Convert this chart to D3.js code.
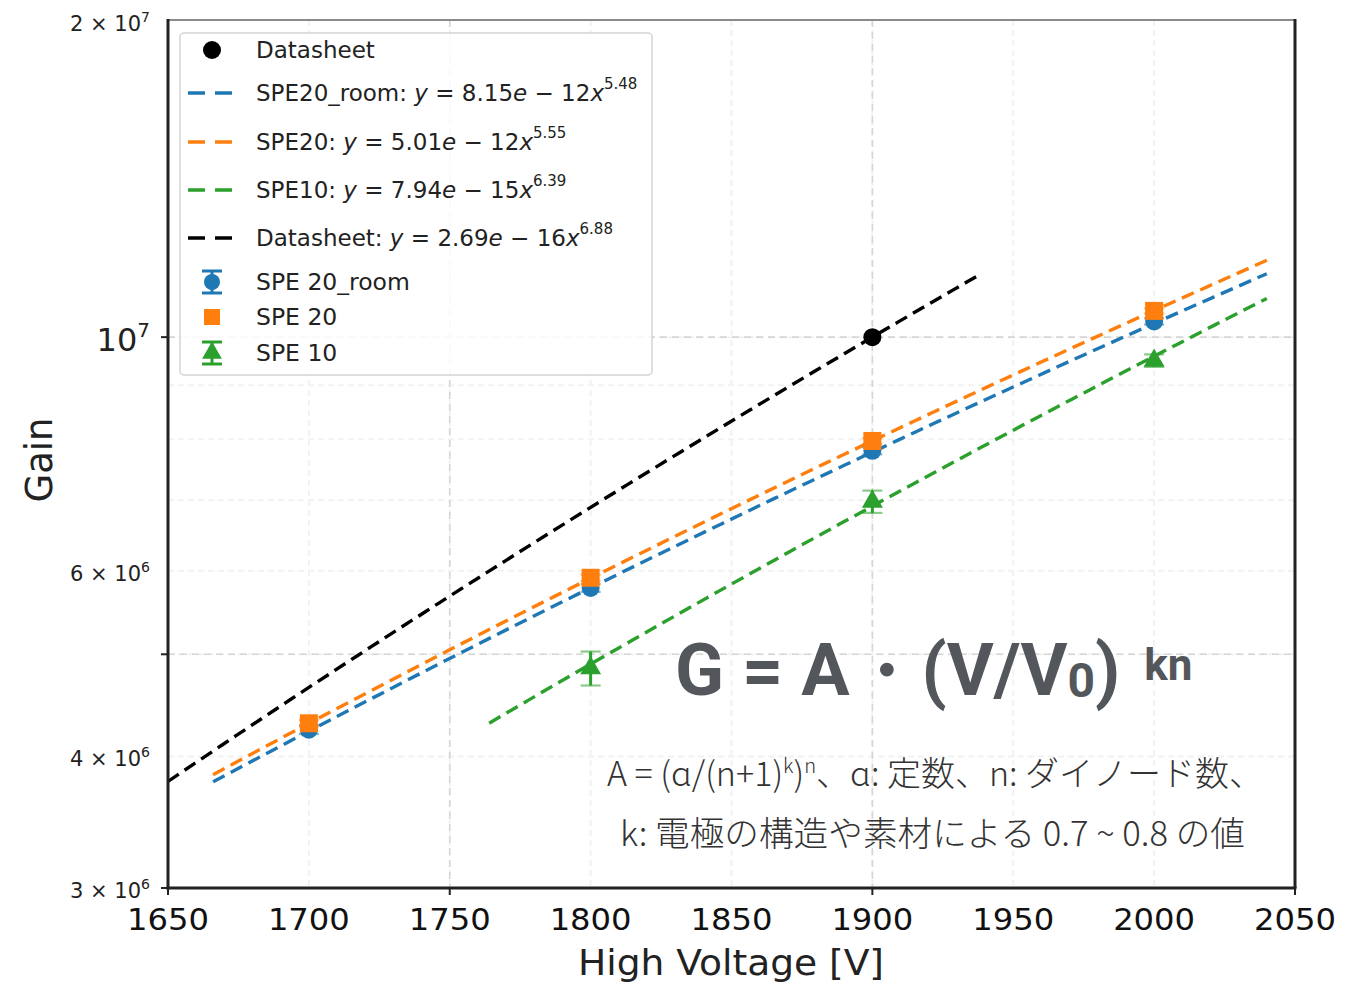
<!DOCTYPE html>
<html>
<head>
<meta charset="utf-8">
<script src="https://cdn.jsdelivr.net/npm/d3@7"></script>
<style>
  body { margin: 0; background: #fff; }
  svg { display: block; }
</style>
</head>
<body>
<svg id="chart" width="1362" height="983"></svg>
<script>
// ---- data ----
const voltageTicks = [1650, 1700, 1750, 1800, 1850, 1900, 1950, 2000, 2050];
const majorVoltages = [1650, 1750, 1900, 2050];
const majorGains = [3e6, 5e6, 1e7];
const gainLabelValues = [2e7, 1e7, 6e6, 4e6, 3e6];

const datasheetV = [1900];
const datasheetGain = [1.0e7];

const spe20roomV = [1700, 1800, 1900, 2000];
const spe20roomGain = [4.24e6, 5.78e6, 7.80e6, 1.035e7];
const spe20roomErr = [0.04e6, 0.05e6, 0.06e6, 0.07e6];

const spe20V = [1700, 1800, 1900, 2000];
const spe20Gain = [4.30e6, 5.91e6, 7.97e6, 1.059e7];
const spe20Err = [0.03e6, 0.04e6, 0.05e6, 0.06e6];

const spe10V = [1800, 1900, 2000];
const spe10Gain = [4.85e6, 6.98e6, 9.50e6];
const spe10Err = [0.18e6, 0.17e6, 0.13e6];

// power-law fits  G = A * V^n
const fitNames = ["SPE20_room", "SPE20", "SPE10", "Datasheet"];
const fitCoef = [8.15e-12, 5.01e-12, 7.94e-15, 2.69e-16];
const fitExp = [5.4837, 5.5514, 6.3865, 6.8838];
const fitRange = [[1666, 2040], [1666, 2040], [1764, 2040], [1650, 1938]];

const formulaMain = "G = A・(V/V";
const formulaSub = "0";
const formulaClose = ")";
const formulaSup = "kn";
const noteLine1 = ["A = (ɑ/(n+1)", "k", ")", "n", "、ɑ: 定数、n: ダイノード数、"];
const noteLine2 = "k: 電極の構造や素材による 0.7 ~ 0.8 の値";

// ---- layout ----
const svg = d3.select("#chart");
const plot = { left: 168, right: 1295, top: 20, bottom: 888 };
const x = d3.scaleLinear().domain([1650, 2050]).range([plot.left, plot.right]);
const y = d3.scaleLog().domain([3e6, 2e7]).range([plot.bottom, plot.top]);

const C = { blue: "#1f77b4", orange: "#ff7f0e", green: "#2ca02c", black: "#000" };
const fitColors = [C.blue, C.orange, C.green, C.black];
const FONT = "'DejaVu Sans', sans-serif";

svg.append("defs").append("clipPath").attr("id", "plotClip")
  .append("rect").attr("x", plot.left).attr("y", plot.top)
  .attr("width", plot.right - plot.left).attr("height", plot.bottom - plot.top);

// ---- grid ----
const grid = svg.append("g");
grid.selectAll(".vminor").data(voltageTicks).join("line")
  .attr("x1", d => x(d)).attr("x2", d => x(d))
  .attr("y1", plot.top).attr("y2", plot.bottom)
  .attr("stroke", "#f2f2f2").attr("stroke-width", 2).attr("stroke-dasharray", "6,4");
grid.selectAll(".hminor").data(y.ticks()).join("line")
  .attr("x1", plot.left).attr("x2", plot.right)
  .attr("y1", d => y(d)).attr("y2", d => y(d))
  .attr("stroke", "#f2f2f2").attr("stroke-width", 2).attr("stroke-dasharray", "6,4");
grid.selectAll(".vmajor").data(majorVoltages).join("line")
  .attr("x1", d => x(d)).attr("x2", d => x(d))
  .attr("y1", plot.top).attr("y2", plot.bottom)
  .attr("stroke", "#d6d6d6").attr("stroke-width", 1.6).attr("stroke-dasharray", "7,5");
grid.selectAll(".hmajor").data(majorGains).join("line")
  .attr("x1", plot.left).attr("x2", plot.right)
  .attr("y1", d => y(d)).attr("y2", d => y(d))
  .attr("stroke", "#d6d6d6").attr("stroke-width", 1.6).attr("stroke-dasharray", "7,5");

// ---- fit curves ----
const lineGen = d3.line().x(d => x(d[0])).y(d => y(d[1]));
const fits = svg.append("g").attr("clip-path", "url(#plotClip)");
fitNames.forEach((name, i) => {
  const [v0, v1] = fitRange[i];
  const pts = d3.range(0, 61).map(k => {
    const v = v0 + (v1 - v0) * k / 60;
    return [v, fitCoef[i] * Math.pow(v, fitExp[i])];
  });
  fits.append("path").datum(pts).attr("d", lineGen)
    .attr("fill", "none").attr("stroke", fitColors[i])
    .attr("stroke-width", 3.4).attr("stroke-dasharray", "13,7");
});

// ---- error bars and markers ----
function errorBars(g, vs, gs, es, color) {
  vs.forEach((v, i) => {
    const top = y(gs[i] + es[i]), bot = y(gs[i] - es[i]);
    g.append("line").attr("x1", x(v)).attr("x2", x(v)).attr("y1", top).attr("y2", bot)
      .attr("stroke", color).attr("stroke-width", 3);
    [top, bot].forEach(yy => g.append("line")
      .attr("x1", x(v) - 10).attr("x2", x(v) + 10).attr("y1", yy).attr("y2", yy)
      .attr("stroke", color).attr("stroke-width", 2.2).attr("opacity", 0.55));
  });
}
const marks = svg.append("g");
errorBars(marks, spe20roomV, spe20roomGain, spe20roomErr, C.blue);
marks.selectAll(".b").data(spe20roomV).join("circle")
  .attr("cx", d => x(d)).attr("cy", (d, i) => y(spe20roomGain[i])).attr("r", 9).attr("fill", C.blue);
errorBars(marks, spe20V, spe20Gain, spe20Err, C.orange);
marks.selectAll(".o").data(spe20V).join("rect")
  .attr("x", d => x(d) - 9).attr("y", (d, i) => y(spe20Gain[i]) - 9)
  .attr("width", 18).attr("height", 18).attr("fill", C.orange);
errorBars(marks, spe10V, spe10Gain, spe10Err, C.green);
const tri = d3.symbol().type(d3.symbolTriangle).size(190);
marks.selectAll(".g").data(spe10V).join("path")
  .attr("d", tri).attr("transform", (d, i) => `translate(${x(d)},${y(spe10Gain[i])})`)
  .attr("fill", C.green);
marks.selectAll(".d").data(datasheetV).join("circle")
  .attr("cx", d => x(d)).attr("cy", (d, i) => y(datasheetGain[i])).attr("r", 9).attr("fill", C.black);

// ---- spines and ticks ----
const ax = svg.append("g");
ax.append("line").attr("x1", plot.left).attr("x2", plot.right).attr("y1", plot.top).attr("y2", plot.top)
  .attr("stroke", "#8a8a8a").attr("stroke-width", 2);
ax.append("line").attr("x1", plot.right).attr("x2", plot.right).attr("y1", plot.top - 1).attr("y2", plot.bottom)
  .attr("stroke", "#222").attr("stroke-width", 3);
ax.append("line").attr("x1", plot.left).attr("x2", plot.left).attr("y1", plot.top - 1).attr("y2", plot.bottom + 1.5)
  .attr("stroke", "#222").attr("stroke-width", 3);
ax.append("line").attr("x1", plot.left - 1.5).attr("x2", plot.right + 1.5).attr("y1", plot.bottom).attr("y2", plot.bottom)
  .attr("stroke", "#222").attr("stroke-width", 3);
ax.selectAll(".xt").data(majorVoltages).join("line")
  .attr("x1", d => x(d)).attr("x2", d => x(d)).attr("y1", plot.bottom).attr("y2", plot.bottom + 7)
  .attr("stroke", "#222").attr("stroke-width", 2);
ax.selectAll(".yt").data(majorGains).join("line")
  .attr("x1", plot.left - 7).attr("x2", plot.left).attr("y1", d => y(d)).attr("y2", d => y(d))
  .attr("stroke", "#222").attr("stroke-width", 2);

// x tick labels
ax.selectAll(".xl").data(voltageTicks).join("text")
  .attr("x", d => x(d)).attr("y", 930).attr("text-anchor", "middle")
  .attr("font-family", FONT).attr("font-size", 31).attr("fill", "#111")
  .attr("textLength", 82).attr("lengthAdjust", "spacingAndGlyphs")
  .text(d => d);

// y tick labels (m × 10^e)
gainLabelValues.forEach(v => {
  const e = Math.floor(Math.log10(v) + 1e-9);
  const m = Math.round(v / Math.pow(10, e));
  const t = ax.append("text").attr("x", 150).attr("y", y(v) + (v === 2e7 ? 11 : 10))
    .attr("text-anchor", "end").attr("font-family", FONT).attr("fill", "#222");
  if (m === 1) {
    t.attr("font-size", 32).attr("y", y(v) + 14);
    t.append("tspan").text("10");
    t.append("tspan").attr("font-size", 20).attr("dy", -14).text(e);
  } else {
    t.attr("font-size", 21);
    t.append("tspan").text(`${m} × 10`);
    t.append("tspan").attr("font-size", 14).attr("dy", -9).text(e);
  }
});

// axis titles
svg.append("text").attr("transform", "translate(52,460) rotate(-90)")
  .attr("text-anchor", "middle").attr("font-family", FONT).attr("font-size", 37).attr("fill", "#222")
  .text("Gain");
svg.append("text").attr("x", 731).attr("y", 975).attr("text-anchor", "middle")
  .attr("font-family", FONT).attr("font-size", 35).attr("fill", "#222")
  .attr("textLength", 306).attr("lengthAdjust", "spacingAndGlyphs")
  .text("High Voltage [V]");

// ---- legend ----
const lg = svg.append("g");
lg.append("rect").attr("x", 180).attr("y", 33).attr("width", 472).attr("height", 342).attr("rx", 4)
  .attr("fill", "#fff").attr("fill-opacity", 0.85).attr("stroke", "#d4d4d4").attr("stroke-width", 1.5);
const legText = (yy, sz) => lg.append("text").attr("x", 256).attr("y", yy)
  .attr("font-family", FONT).attr("font-size", sz || 23).attr("fill", "#222");

// Datasheet marker
lg.append("circle").attr("cx", 212).attr("cy", 50).attr("r", 9).attr("fill", C.black);
legText(58).text("Datasheet");

const fmtCoef = d3.format(".2e");
const legFitY = [93, 142, 190, 238];
fitNames.forEach((name, i) => {
  const yy = legFitY[i];
  lg.append("line").attr("x1", 188).attr("x2", 232).attr("y1", yy).attr("y2", yy)
    .attr("stroke", fitColors[i]).attr("stroke-width", 3.4).attr("stroke-dasharray", "17,10");
  const [mant, ex] = fmtCoef(fitCoef[i]).split("e");
  const t = legText(yy + 8);
  t.append("tspan").text(`${name}: `);
  t.append("tspan").attr("font-style", "italic").text("y");
  t.append("tspan").text(` = ${mant}`);
  t.append("tspan").attr("font-style", "italic").text("e");
  t.append("tspan").text(` − ${Math.abs(+ex)}`);
  t.append("tspan").attr("font-style", "italic").text("x");
  t.append("tspan").attr("font-size", 15).attr("dy", -12).text(fitExp[i].toFixed(2));
});

// error-bar entries
const legPts = [
  { y: 282, color: C.blue, label: "SPE 20_room", shape: "circle", cap: 11 },
  { y: 317, color: C.orange, label: "SPE 20", shape: "square", cap: 0 },
  { y: 353, color: C.green, label: "SPE 10", shape: "triangle", cap: 11 }
];
legPts.forEach(p => {
  const h = p.cap || 8;
  lg.append("line").attr("x1", 212).attr("x2", 212).attr("y1", p.y - h).attr("y2", p.y + h)
    .attr("stroke", p.color).attr("stroke-width", 3);
  if (p.cap) {
    [p.y - h, p.y + h].forEach(yy => lg.append("line").attr("x1", 202).attr("x2", 222)
      .attr("y1", yy).attr("y2", yy).attr("stroke", p.color).attr("stroke-width", 3));
  }
  if (p.shape === "circle") lg.append("circle").attr("cx", 212).attr("cy", p.y).attr("r", 8).attr("fill", p.color);
  if (p.shape === "square") lg.append("rect").attr("x", 204).attr("y", p.y - 8).attr("width", 16).attr("height", 16).attr("fill", p.color);
  if (p.shape === "triangle") lg.append("path").attr("d", d3.symbol().type(d3.symbolTriangle).size(170))
    .attr("transform", `translate(212,${p.y})`).attr("fill", p.color);
  legText(p.y + 8, 23.5).text(p.label);
});

// ---- gain formula annotation ----
const ft = svg.append("text").attr("x", 675).attr("y", 695)
  .attr("font-family", "Roboto, 'Liberation Sans', sans-serif").attr("font-weight", 700)
  .attr("font-size", 72).attr("fill", "#53575c");
ft.append("tspan").text(formulaMain);
ft.append("tspan").attr("font-size", 48).attr("dy", 2).text(formulaSub);
ft.append("tspan").attr("dy", -2).text(formulaClose);
ft.append("tspan").attr("font-size", 44).attr("dx", 24).attr("dy", -15).text(formulaSup);

const JP = "'Noto Sans CJK JP', 'Noto Sans', sans-serif";
const n1 = svg.append("text").attr("x", 607).attr("y", 786)
  .attr("font-family", JP).attr("font-weight", 300).attr("font-size", 34).attr("fill", "#333");
n1.append("tspan").text(noteLine1[0]);
n1.append("tspan").attr("font-size", 20).attr("dy", -13).text(noteLine1[1]);
n1.append("tspan").attr("dy", 13).text(noteLine1[2]);
n1.append("tspan").attr("font-size", 20).attr("dy", -13).text(noteLine1[3]);
n1.append("tspan").attr("dy", 13).text(noteLine1[4]);
svg.append("text").attr("x", 620).attr("y", 846)
  .attr("font-family", JP).attr("font-weight", 300).attr("font-size", 34).attr("fill", "#333")
  .attr("textLength", 625).attr("lengthAdjust", "spacingAndGlyphs")
  .text(noteLine2);
</script>
</body>
</html>
